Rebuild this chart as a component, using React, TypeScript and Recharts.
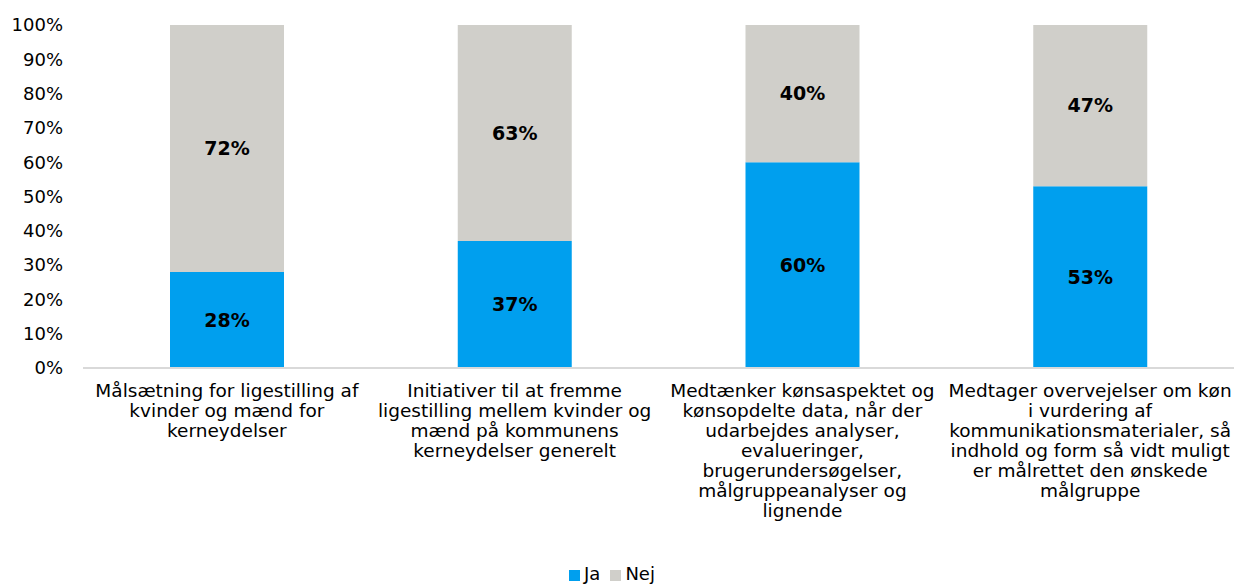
import React from "react";
import { BarChart, Bar, XAxis, YAxis, Legend, LabelList } from "recharts";

const categories = [
  "Målsætning for ligestilling af\nkvinder og mænd for\nkerneydelser",
  "Initiativer til at fremme\nligestilling mellem kvinder og\nmænd på kommunens\nkerneydelser generelt",
  "Medtænker kønsaspektet og\nkønsopdelte data, når der\nudarbejdes analyser,\nevalueringer,\nbrugerundersøgelser,\nmålgruppeanalyser og\nlignende",
  "Medtager overvejelser om køn\ni vurdering af\nkommunikationsmaterialer, så\nindhold og form så vidt muligt\ner målrettet den ønskede\nmålgruppe",
];
const jaValues = [28, 37, 60, 53];
const nejValues = [72, 63, 40, 47];
const yTicks = [0, 10, 20, 30, 40, 50, 60, 70, 80, 90, 100];

const data = categories.map((c, i) => ({ name: c, Ja: jaValues[i], Nej: nejValues[i] }));

const FONT = "'DejaVu Sans', Verdana, sans-serif";

const CategoryTick = (props: any) => {
  const { x, y, payload } = props;
  const lines = String(payload.value).split("\n");
  return (
    <text x={x} y={y} textAnchor="middle" fontFamily={FONT} fontSize={18.5} fill="#000">
      {lines.map((l, i) => (
        <tspan key={i} x={x} dy={i === 0 ? 21 : 20}>
          {l}
        </tspan>
      ))}
    </text>
  );
};

export default function App() {
  return (
    <div style={{ position: "absolute", left: 0, top: 0, width: 1237, height: 584, background: "#fff" }}>
      <BarChart
        width={1237}
        height={584}
        data={data}
        margin={{ top: 25, right: 3, left: 0, bottom: 0 }}
        barSize={114}
      >
        <XAxis
          dataKey="name"
          tick={<CategoryTick />}
          tickLine={false}
          axisLine={{ stroke: "#d9d9d9", strokeWidth: 2 }}
          height={195}
          interval={0}
        />
        <YAxis
          domain={[0, 100]}
          ticks={yTicks}
          tickFormatter={(v: number) => `${v}%`}
          axisLine={false}
          tickLine={false}
          tickSize={0}
          tickMargin={20}
          width={83}
          tick={{ fontFamily: FONT, fontSize: 18, fill: "#000" }}
        />
        <Legend
          verticalAlign="bottom"
          align="center"
          iconType="square"
          iconSize={11}
          wrapperStyle={{ fontFamily: FONT, fontSize: 18 }}
          formatter={(v: string) => <span style={{ color: "#000" }}>{v}</span>}
        />
        <Bar dataKey="Ja" stackId="a" fill="#009FEE" isAnimationActive={false}>
          <LabelList
            dataKey="Ja"
            position="center"
            formatter={(v: number) => `${v}%`}
            style={{ fontFamily: FONT, fontSize: 19, fontWeight: "bold", fill: "#000" }}
          />
        </Bar>
        <Bar dataKey="Nej" stackId="a" fill="#D0CFCA" isAnimationActive={false}>
          <LabelList
            dataKey="Nej"
            position="center"
            formatter={(v: number) => `${v}%`}
            style={{ fontFamily: FONT, fontSize: 19, fontWeight: "bold", fill: "#000" }}
          />
        </Bar>
      </BarChart>
    </div>
  );
}
